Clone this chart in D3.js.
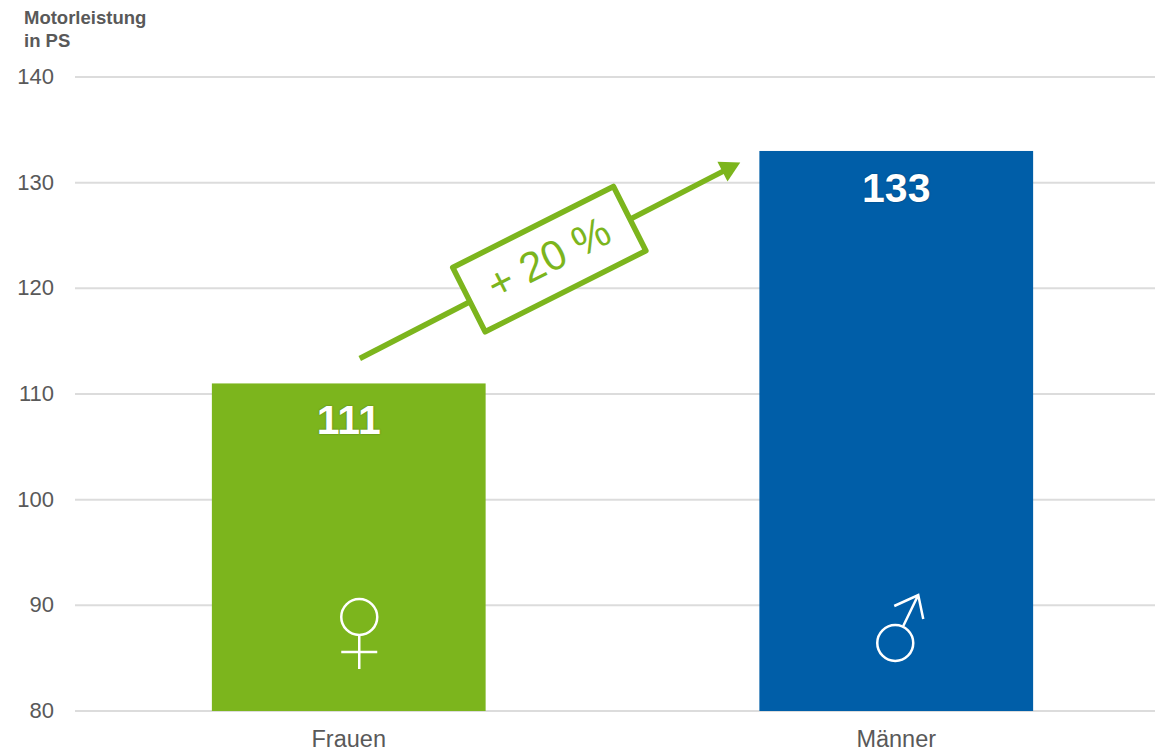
<!DOCTYPE html>
<html>
<head>
<meta charset="utf-8">
<script src="https://cdn.jsdelivr.net/npm/d3@7"></script>
<style>
html,body{margin:0;padding:0;background:#fff;}
svg{display:block;font-family:"Liberation Sans",Arial,sans-serif;}
</style>
</head>
<body>
<svg id="chart" width="1155" height="751"></svg>
<script>
const categories=["Frauen","Männer"];
const values=[111,133];
const barColors=["#7cb51d","#005ea8"];
const yTicks=[80,90,100,110,120,130,140];
const titleLines=["Motorleistung","in PS"];
const changeLabel="+ 20 %";

const svg=d3.select("#chart");
const green="#7cb51d";

const x=d3.scaleBand().domain(categories).range([75,1170]).paddingInner(0.5).paddingOuter(0.25);
const y=d3.scaleLinear().domain([80,140]).range([711,77]);

// grid + tick labels
svg.append("g").selectAll("line")
  .data(yTicks)
  .enter().append("line")
  .attr("x1",75)
  .attr("x2",1155)
  .attr("y1",d=>y(d))
  .attr("y2",d=>y(d))
  .attr("stroke","#dcdcdc")
  .attr("stroke-width",2);

svg.append("g").selectAll("text")
  .data(yTicks)
  .enter().append("text")
  .attr("x",54)
  .attr("y",d=>y(d)+7)
  .attr("text-anchor","end")
  .attr("font-size","22px")
  .attr("fill","#595959")
  .text(d=>d);

svg.append("g").selectAll("text")
  .data(titleLines)
  .enter().append("text")
  .attr("x",24)
  .attr("y",(d,i)=>24+i*23)
  .attr("font-size","18.5px")
  .attr("font-weight","bold")
  .attr("fill","#595959")
  .text(d=>d);

// bars
svg.selectAll(".bar")
  .data(categories)
  .enter().append("rect")
  .attr("class","bar")
  .attr("x",d=>x(d))
  .attr("width",x.bandwidth())
  .attr("y",(d,i)=>y(values[i]))
  .attr("height",(d,i)=>y(80)-y(values[i]))
  .attr("fill",(d,i)=>barColors[i]);

svg.selectAll(".val")
  .data(categories)
  .enter().append("text")
  .attr("class","val")
  .attr("x",d=>x(d)+x.bandwidth()/2)
  .attr("y",(d,i)=>y(values[i])+51)
  .attr("text-anchor","middle")
  .attr("font-size","41px")
  .attr("font-weight","bold")
  .attr("fill","#fff")
  .style("text-shadow","0 0 2px rgba(0,0,0,.35)")
  .text((d,i)=>values[i]);

svg.selectAll(".cat")
  .data(categories)
  .enter().append("text")
  .attr("class","cat")
  .attr("x",d=>x(d)+x.bandwidth()/2)
  .attr("y",747)
  .attr("text-anchor","middle")
  .attr("font-size","23.5px")
  .attr("fill","#595959")
  .text(d=>d);

// gender symbols
const cF=x("Frauen")+x.bandwidth()/2, cM=x("Männer")+x.bandwidth()/2;
const female=svg.append("g")
  .attr("transform",`translate(${cF+10.5},617)`)
  .attr("fill","none").attr("stroke","#fff").attr("stroke-width",2.5);
female.append("circle").attr("r",18);
female.append("path").attr("d","M0,18V52M-18,35H18");

const male=svg.append("g")
  .attr("transform",`translate(${cM-1},643)`)
  .attr("fill","none").attr("stroke","#fff").attr("stroke-width",2.5);
male.append("circle").attr("r",18);
male.append("path").attr("d","M8,-17L23,-48M-1,-37L23,-48L28,-24");

// change arrow
const x0=cF+11, y0=y(values[0])-25;
const x1=cM-156, y1=y(values[1])+11.5;
const ang=Math.atan2(y1-y0,x1-x0)*180/Math.PI;
const len=Math.hypot(x1-x0,y1-y0);
const arrow=svg.append("g")
  .attr("transform",`translate(${x0},${y0}) rotate(${ang})`);
arrow.append("line")
  .attr("x1",0).attr("x2",len-14)
  .attr("stroke",green).attr("stroke-width",5.5);
arrow.append("path")
  .attr("d",`M${len},0L${len-20},-11L${len-20},11Z`)
  .attr("fill",green);

const box=arrow.append("g").attr("transform",`translate(${len*0.5},-1.5) rotate(0.5)`);
box.append("rect")
  .attr("x",-90).attr("y",-36)
  .attr("width",180).attr("height",72)
  .attr("fill","#fff")
  .attr("stroke",green)
  .attr("stroke-width",5.5)
  .attr("stroke-linejoin","round");
box.append("text")
  .attr("y",13)
  .attr("text-anchor","middle")
  .attr("font-size","42px")
  .attr("fill",green)
  .text(changeLabel);
</script>
</body>
</html>
